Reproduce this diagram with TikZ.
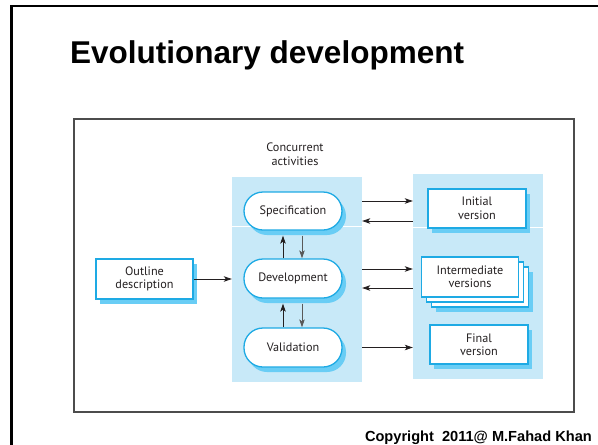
\documentclass[tikz,border=0pt]{standalone}
\usepackage{fontspec}
\setmainfont{Liberation Sans}
\newfontfamily\diagfont{PT Sans}
\usetikzlibrary{arrows.meta,calc,shadows}
\definecolor{panelblue}{RGB}{200,233,248}
\definecolor{edgeblue}{RGB}{30,170,228}
\definecolor{shadeblue}{RGB}{105,205,245}
\definecolor{inkgray}{RGB}{35,31,32}
\tikzset{
  boxshadow/.style={drop shadow={shadow xshift=4pt,shadow yshift=-5pt,fill=shadeblue,opacity=1}},
  actbox/.style={draw=edgeblue,line width=1.3pt,fill=white,rounded corners=19pt,
    minimum width=98pt,minimum height=38pt,font=\diagfont\fontsize{12.2}{13}\selectfont,text=inkgray,boxshadow},
  verbox/.style={draw=edgeblue,line width=1.3pt,fill=white,
    minimum width=98pt,minimum height=39pt,font=\diagfont\fontsize{12.2}{13.5}\selectfont,text=inkgray,
    align=center,inner sep=0pt},
  panel/.style={fill=panelblue,draw=none,minimum width=130pt,minimum height=205pt,inner sep=0pt},
  arr/.style={draw=inkgray,line width=0.8pt,-{Stealth[length=8pt,width=5.5pt,inset=2pt]}},
  garr/.style={draw=black!65,line width=0.8pt,-{Stealth[length=8pt,width=5.5pt,inset=2pt]}}
}
\begin{document}
\begin{tikzpicture}[x=1pt,y=-1pt]
\useasboundingbox (0,0) rectangle (598,445);
% slide frame
\draw[line width=2.4pt,black] (11.5,445) -- (11.5,6) -- (598,6);
% title
\node[anchor=base west,inner sep=0pt,font=\bfseries\fontsize{31.5}{36}\selectfont] (title) at (70,63) {Evolutionary development};
% copyright
\node[anchor=base east,inner sep=0pt,font=\bfseries\fontsize{14.6}{16}\selectfont] (copy) at (592,441.5) {Copyright\ \ 2011@ M.Fahad Khan};
% inner frame
\draw[line width=1.2pt,black!70] (74,119) rectangle (574,412);
% panels
\node[panel] (panelL) at (297,279.5) {};
\node[panel] (panelR) at (478,276.5) {};
\draw[white,line width=1pt] (panelL.west |- 0,226) -- (panelL.east |- 0,226);
\draw[white,line width=1pt] (panelR.west |- 0,227) -- (panelR.east |- 0,227);
% label
\node[font=\diagfont\fontsize{12.2}{14}\selectfont,text=inkgray,align=center] (conc) at (295,154) {Concurrent\\activities};
% activities
\node[actbox] (spec) at (293,211) {Specification};
\node[actbox,minimum height=39pt] (dev) at (293,278.5) {Development};
\node[actbox,minimum height=39pt] (val) at (293,347.5) {Validation};
% outline
\node[verbox,boxshadow,minimum width=97pt,minimum height=40pt] (outline) at (144.5,279) {Outline\\description};
% versions
\node[verbox,boxshadow] (init) at (477,208.5) {Initial\\version};
\node[verbox,boxshadow,minimum width=97pt,minimum height=40pt] (inter3) at (480,287) {};
\node[verbox,minimum width=97pt,minimum height=40pt] (inter2) at (475,282) {};
\node[verbox,minimum width=97pt,minimum height=40pt] (inter) at (470,277) {Intermediate\\versions};
\node[verbox,boxshadow] (final) at (479,344.5) {Final\\version};
% arrows
\draw[arr] (outline.east) -- (panelL.west |- outline.east);
\draw[arr] ($(dev.north)+(-10,0)$) -- ($(spec.south)+(-10,5)$);
\draw[garr] ($(spec.south)+(9,5)$) -- ($(dev.north)+(9,0)$);
\draw[arr] ($(val.north)+(-10,0)$) -- ($(dev.south)+(-10,5)$);
\draw[garr] ($(dev.south)+(9,5)$) -- ($(val.north)+(9,0)$);
\draw[arr] ($(panelL.east |- spec.center)+(0,-10)$) -- ($(panelR.west |- spec.center)+(0,-10)$);
\draw[arr] ($(panelR.west |- spec.center)+(0,10)$) -- ($(panelL.east |- spec.center)+(0,10)$);
\draw[arr] ($(panelL.east |- dev.center)+(0,-9.5)$) -- ($(panelR.west |- dev.center)+(0,-9.5)$);
\draw[arr] ($(panelR.west |- dev.center)+(0,9.5)$) -- ($(panelL.east |- dev.center)+(0,9.5)$);
\draw[arr] (panelL.east |- val.center) -- (panelR.west |- val.center);
\end{tikzpicture}
\end{document}
